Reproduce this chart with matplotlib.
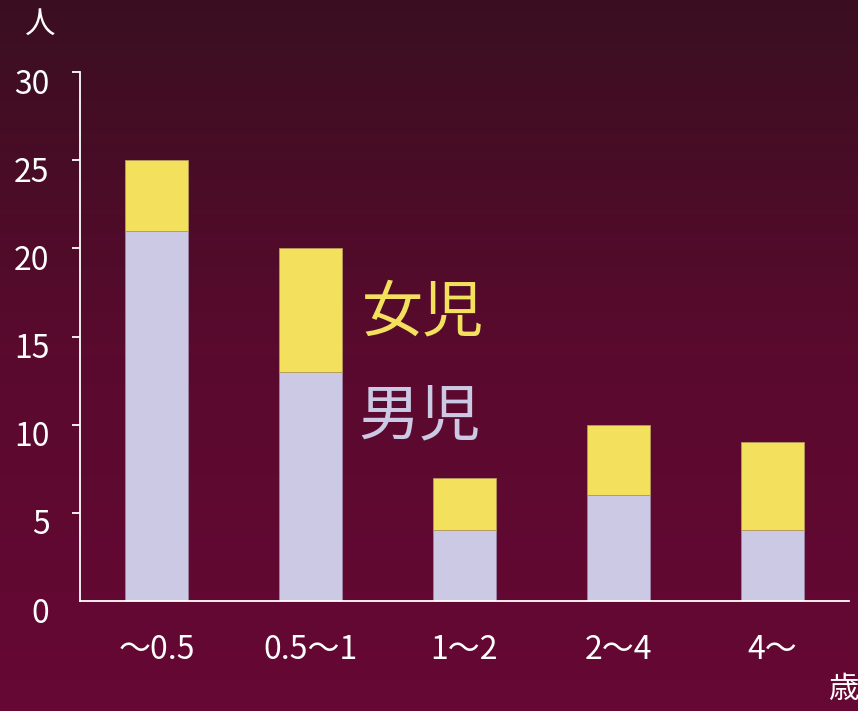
import numpy as np
import matplotlib.pyplot as plt
from matplotlib.colors import LinearSegmentedColormap
from matplotlib.transforms import ScaledTranslation

plt.rcParams['font.family'] = ['Noto Sans CJK JP', 'DejaVu Sans']

ages = ['〜0.5', '0.5〜1', '1〜2', '2〜4', '4〜']
boys = [21, 13, 4, 6, 4]
girls = [4, 7, 3, 4, 5]

boy_color = '#cbc9e3'
girl_color = '#f3e15e'

fig = plt.figure(figsize=(8.58, 7.11), dpi=100)

# vertical background gradient
bg = fig.add_axes([0, 0, 1, 1], zorder=-1)
cmap = LinearSegmentedColormap.from_list('bg', ['#3a0f20', '#5a0a2e', '#660834'])
bg.imshow(np.linspace(0, 1, 256).reshape(-1, 1), cmap=cmap, aspect='auto',
          extent=[0, 1, 0, 1])
bg.set_axis_off()

ax = fig.add_axes([0.0932, 0.1547, 0.8963, 0.744])
ax.patch.set_alpha(0)

x = np.arange(len(ages))
ax.bar(x, boys, width=0.41, color=boy_color, edgecolor='#9d86a8', linewidth=0.6)
ax.bar(x, girls, width=0.41, bottom=boys, color=girl_color, edgecolor='#b59a5a', linewidth=0.6)

ax.set_xlim(-0.5, 4.5)
ax.set_ylim(0, 30)
ax.set_yticks(range(0, 31, 5))
ax.set_xticks(x)
ax.set_xticklabels(ages)

for s in ['top', 'right']:
    ax.spines[s].set_visible(False)
for s in ['left', 'bottom']:
    ax.spines[s].set_color('white')
    ax.spines[s].set_linewidth(1.3)

ax.tick_params(axis='y', colors='white', labelsize=23, length=6, width=1.3, pad=16)
ax.tick_params(axis='x', colors='white', labelsize=23, length=0, pad=24)
# no tick mark at the origin
ax.yaxis.get_major_ticks()[0].tick1line.set_visible(False)

shift = ScaledTranslation(0, -9 / 100, fig.dpi_scale_trans)
for lab in ax.get_yticklabels():
    lab.set_transform(lab.get_transform() + shift)

# series labels beside the second bar
ax.text(1.73, 16.3, '女児', color=girl_color, fontsize=44,
        ha='center', va='center')
ax.text(1.71, 10.4, '男児', color=boy_color, fontsize=44,
        ha='center', va='center')

fig.text(40 / 858, 1 - 24 / 711, '人', color='white', fontsize=22,
         ha='center', va='center')
fig.text(828 / 858, 1 - 690 / 711, '歳', color='white', fontsize=22,
         ha='left', va='center')

fig.savefig('out.png', dpi=100)
